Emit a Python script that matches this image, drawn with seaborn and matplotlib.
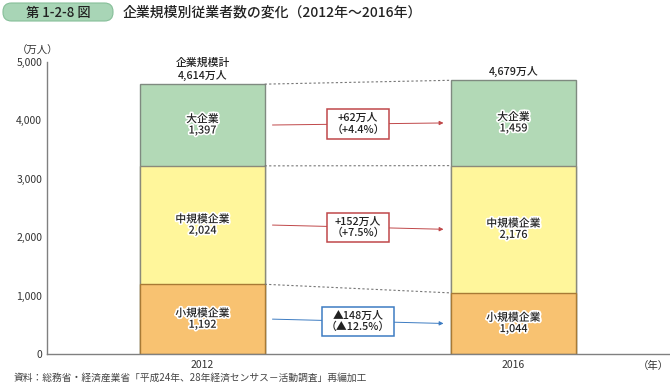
import numpy as np
import pandas as pd
import seaborn as sns
from matplotlib import pyplot as plt
from matplotlib import patheffects as pe
from matplotlib.patches import FancyBboxPatch

years = ['2012', '2016']
small = [1192, 1044]
medium = [2024, 2176]
large = [1397, 1459]
total_labels = ['企業規模計\n4,614万人', '4,679万人']
seg_names = ['小規模企業', '中規模企業', '大企業']
change_labels = ['▲148万人\n（▲12.5%）', '+152万人\n（+7.5%）', '+62万人\n（+4.4%）']
y_ticks = [0, 1000, 2000, 3000, 4000, 5000]

COLORS = ['#f8c271', '#fff69b', '#b2d9b6']
EDGES = ['#a87a35', '#8a8a7a', '#7f8a80']
BOX_COLORS = ['#3d7cc2', '#c0484a', '#c0484a']

sns.set_style('white')
plt.rcParams['font.family'] = ['Noto Sans CJK JP', 'DejaVu Sans']


def stacked_bars(ax, df):
    # overlay cumulative bars, tallest first
    cum = np.cumsum(df[['small', 'medium', 'large']].values, axis=1)
    for i in [2, 1, 0]:
        sns.barplot(x=df['year'], y=cum[:, i], color=COLORS[i], width=0.4,
                    edgecolor=EDGES[i], linewidth=1.0, saturation=1, ax=ax)
    return cum


def header(fig):
    # overlay axes in pixel units for the title strip
    hx = fig.add_axes([0, 0, 1, 1], zorder=-1)
    hx.set_xlim(0, 670)
    hx.set_ylim(386, 0)
    hx.axis('off')
    hx.add_patch(FancyBboxPatch((3, 3), 110, 18, boxstyle='round,pad=0,rounding_size=8.5',
                                fc='#a8d5b6', ec='#86bf99', lw=0.8))
    hx.text(58, 12.5, '第 1-2-8 図', ha='center', va='center', fontsize=9.5,
            color='#222222', fontweight='medium')
    hx.text(123, 12.5, '企業規模別従業者数の変化（2012年～2016年）', ha='left',
            va='center', fontsize=10, color='#222222', fontweight='medium')
    hx.text(14, 378, '資料：総務省・経済産業省「平成24年、28年経済センサス－活動調査」再編加工',
            ha='left', va='center', fontsize=7, color='#444444')


def main():
    df = pd.DataFrame({'year': years, 'small': small, 'medium': medium, 'large': large})
    fig = plt.figure(figsize=(6.7, 3.86), dpi=100)
    header(fig)
    ax = fig.add_axes([47 / 670, 32 / 386, 622 / 670, 292.5 / 386])
    ax.patch.set_alpha(0)
    cum = stacked_bars(ax, df)

    ax.set_xlim(-0.5, 1.5)
    ax.set_ylim(0, 5000)
    ax.set_xlabel('')
    ax.set_ylabel('')
    ax.set_yticks(y_ticks)
    ax.set_yticklabels([f'{v:,}' for v in y_ticks], fontsize=7.5, color='#333333')
    ax.set_xticks([-0.5, 0.5, 1.5])
    ax.set_xticklabels([])
    ax.tick_params(axis='both', direction='in', length=3, width=0.8, color='#808080')
    for s in ['top', 'right']:
        ax.spines[s].set_visible(False)
    for s in ['left', 'bottom']:
        ax.spines[s].set_color('#808080')
        ax.spines[s].set_linewidth(1.0)

    for i, yr in enumerate(years):
        ax.text(i, -110, yr, ha='center', va='top', fontsize=7.5, color='#333333')
    ax.text(1.5, -110, '（年）', ha='right', va='top', fontsize=7.5, color='#333333')
    ax.text(-0.53, 5090, '（万人）', ha='center', va='bottom', fontsize=7.5, color='#333333')

    stroke = [pe.withStroke(linewidth=2.4, foreground='white')]
    seg_vals = [small, medium, large]
    for i in range(2):
        bottoms = [0, cum[i, 0], cum[i, 1]]
        for j in range(3):
            mid = bottoms[j] + seg_vals[j][i] / 2
            ax.text(i, mid, f'{seg_names[j]}\n{seg_vals[j][i]:,}', ha='center', va='center',
                    fontsize=7.8, color='#222222', linespacing=1.15, fontweight='medium',
                    path_effects=stroke)
        ax.text(i, cum[i, 2] + 60, total_labels[i], ha='center', va='bottom',
                fontsize=7.8, color='#222222', linespacing=1.15, fontweight='medium')

    # dotted connectors between segment tops
    for j in range(3):
        ax.plot([0.2, 0.8], [cum[0, j], cum[1, j]], color='#777777', lw=0.8,
                ls=(0, (2, 2)), zorder=1)

    # change arrows and boxes
    for j in range(3):
        b0 = cum[0, j - 1] if j > 0 else 0
        b1 = cum[1, j - 1] if j > 0 else 0
        y0 = (b0 + cum[0, j]) / 2
        y1 = (b1 + cum[1, j]) / 2
        ax.annotate('', xy=(0.775, y1), xytext=(0.225, y0),
                    arrowprops=dict(arrowstyle='-|>', color=BOX_COLORS[j], lw=0.7,
                                    mutation_scale=6, shrinkA=0, shrinkB=0), zorder=2)
        ax.text(0.5, (y0 + y1) / 2, change_labels[j], ha='center', va='center', fontsize=7.8,
                color='#222222', linespacing=1.15, zorder=3, fontweight='medium',
                bbox=dict(boxstyle='square,pad=0.35', fc='white', ec=BOX_COLORS[j], lw=1.1))

    fig.savefig('out.png', dpi=100)


if __name__ == '__main__':
    main()
